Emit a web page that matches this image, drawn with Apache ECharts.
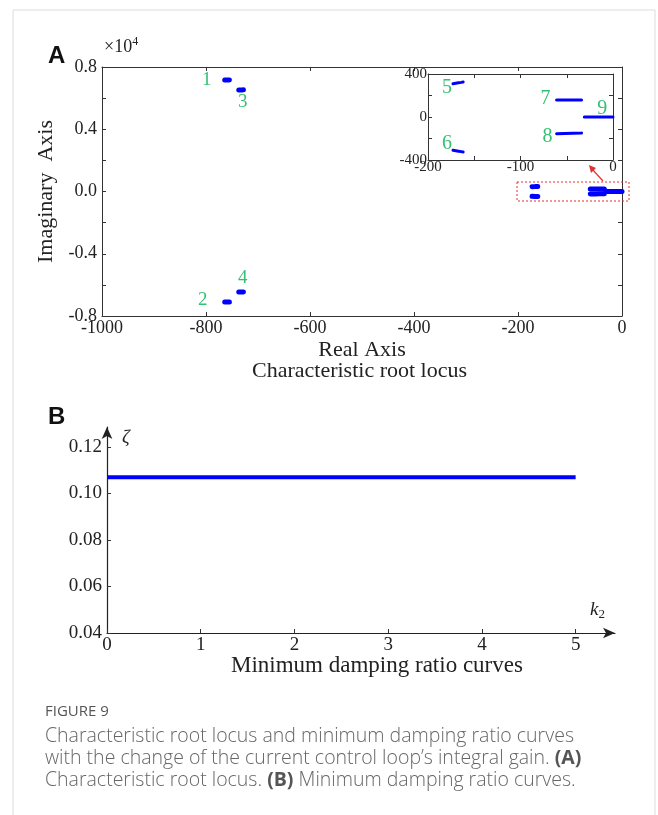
<!DOCTYPE html>
<html>
<head>
<meta charset="utf-8">
<script src="https://cdn.jsdelivr.net/npm/echarts@6/dist/echarts.min.js"></script>
<style>
	html, body { margin: 0; padding: 0; background: #fff; }
	#chart { width: 658px; height: 815px; }
</style>
</head>
<body>
<div id="chart"></div>
<script>
// root branches (real part, imaginary part)
var root1X = [-764, -761, -758, -755];
var root1Y = [7170, 7172, 7170, 7168];
var root2X = [-764, -761, -758, -755];
var root2Y = [-7100, -7102, -7100, -7098];
var root3X = [-737, -734, -731, -728];
var root3Y = [6530, 6528, 6530, 6532];
var root4X = [-737, -734, -731, -728];
var root4Y = [-6460, -6458, -6460, -6462];
var root5X = [-173, -170, -167, -164, -162];
var root5Y = [310, 314, 318, 322, 325];
var root6X = [-173, -170, -167, -164, -162];
var root6Y = [-310, -314, -318, -322, -325];
var root7X = [-61, -52, -43, -34];
var root7Y = [158, 158, 158, 158];
var root8X = [-61, -52, -43, -34];
var root8Y = [-155, -153, -151, -150];
var root9X = [-31, -22, -12, -4, 0];
var root9Y = [0, 0, 0, 0, 0];

// minimum damping ratio
var k2 = [0, 0.5, 1, 1.5, 2, 2.5, 3, 3.5, 4, 4.5, 5];
var zeta = [0.107, 0.107, 0.107, 0.107, 0.107, 0.107, 0.107, 0.107, 0.107, 0.107, 0.107];

var roots = [
	{ tag: '1', x: root1X, y: root1Y, off: [-18, 0] },
	{ tag: '2', x: root2X, y: root2Y, off: [-22, -2] },
	{ tag: '3', x: root3X, y: root3Y, off: [4, 12] },
	{ tag: '4', x: root4X, y: root4Y, off: [4, -14] },
	{ tag: '5', x: root5X, y: root5Y, off: [-6, 4], inset: true },
	{ tag: '6', x: root6X, y: root6Y, off: [-6, -7], inset: true },
	{ tag: '7', x: root7X, y: root7Y, off: [-11, -1], inset: true },
	{ tag: '8', x: root8X, y: root8Y, off: [-9, 3], inset: true },
	{ tag: '9', x: root9X, y: root9Y, off: [18, -8], inset: true }
];

var serif = 'Liberation Serif';
var green = '#00b050';
var blue = '#0000ff';

function pairs(xs, ys) {
	var out = [];
	for (var i = 0; i < xs.length; i++) out.push([xs[i], ys[i]]);
	return out;
}

function frameAxis(grid, pos, min, max, interval, opts) {
	var a = {
		type: 'value', gridIndex: grid, position: pos, min: min, max: max, interval: interval,
		splitLine: { show: false },
		axisLine: { show: true, onZero: false, lineStyle: { color: '#333', width: 1 } },
		axisTick: { show: true, inside: true, length: 4, lineStyle: { color: '#333' } },
		axisLabel: { show: false }
	};
	for (var k in opts) a[k] = opts[k];
	return a;
}

var series = [];
var mainLabels = [];
var insetLabels = [];
roots.forEach(function(r) {
	series.push({
		type: 'line', xAxisIndex: 0, yAxisIndex: 0, data: pairs(r.x, r.y),
		showSymbol: false, clip: false, silent: true,
		lineStyle: { color: blue, width: 5, cap: 'round' }
	});
	var lab = { value: [r.x[0], r.y[0]], name: r.tag, label: { offset: r.off } };
	if (r.inset) {
		series.push({
			type: 'line', xAxisIndex: 2, yAxisIndex: 2, data: pairs(r.x, r.y),
			showSymbol: false, clip: false, silent: true,
			lineStyle: { color: blue, width: 3, cap: 'round' }
		});
		insetLabels.push(lab);
	} else {
		mainLabels.push(lab);
	}
});
series.push({
	type: 'scatter', xAxisIndex: 0, yAxisIndex: 0, symbolSize: 0, data: mainLabels, silent: true,
	label: { show: true, position: 'inside', formatter: '{b}', color: green, fontFamily: serif, fontSize: 19 }
});
series.push({
	type: 'scatter', xAxisIndex: 2, yAxisIndex: 2, symbolSize: 0, data: insetLabels, silent: true,
	label: { show: true, position: 'inside', formatter: '{b}', color: green, fontFamily: serif, fontSize: 20 }
});
series.push({
	type: 'line', xAxisIndex: 4, yAxisIndex: 4, data: pairs(k2, zeta),
	showSymbol: false, silent: true, lineStyle: { color: blue, width: 4 }
});

var option = {
	animation: false,
	backgroundColor: '#fff',
	grid: [
		{ left: 102, top: 67, width: 520, height: 249 },
		{ left: 428, top: 74, width: 185, height: 86, show: true, backgroundColor: '#fff', borderWidth: 0 },
		{ left: 107, top: 427, width: 508, height: 206 }
	],
	xAxis: [
		frameAxis(0, 'bottom', -1000, 0, 200, {
			axisLabel: { show: true, fontFamily: serif, fontSize: 18, color: '#222', margin: 3,
				formatter: function(v) { return String(v); } },
			name: 'Real Axis', nameLocation: 'middle', nameGap: 23,
			nameTextStyle: { fontFamily: serif, fontSize: 22, color: '#222' }
		}),
		frameAxis(0, 'top', -1000, 0, 200, {}),
		frameAxis(1, 'bottom', -200, 0, 50, {
			axisLabel: { show: true, fontFamily: serif, fontSize: 15, color: '#222', margin: 0,
				formatter: function(v) { return v % 100 === 0 ? String(v) : ''; } }
		}),
		frameAxis(1, 'top', -200, 0, 50, {}),
		{
			type: 'value', gridIndex: 2, min: 0, max: 5.42, interval: 1,
			splitLine: { show: false },
			axisLine: { onZero: false, symbol: ['none', 'arrow'], symbolSize: [8, 12], lineStyle: { color: '#222', width: 1.2 } },
			axisTick: { inside: true, length: 4, lineStyle: { color: '#333' } },
			axisLabel: { fontFamily: serif, fontSize: 19, color: '#222', margin: 3, showMaxLabel: false }
		}
	],
	yAxis: [
		frameAxis(0, 'left', -8000, 8000, 2000, {
			axisLabel: { show: true, fontFamily: serif, fontSize: 18, color: '#222', margin: 5,
				formatter: function(v) { return v % 4000 === 0 ? (v / 10000).toFixed(1) : ''; } },
			name: 'Imaginary  Axis', nameLocation: 'middle', nameGap: 44,
			nameTextStyle: { fontFamily: serif, fontSize: 22, color: '#222' }
		}),
		frameAxis(0, 'right', -8000, 8000, 2000, {}),
		frameAxis(1, 'left', -400, 400, 200, {
			axisLabel: { show: true, fontFamily: serif, fontSize: 15, color: '#222', margin: 1,
				formatter: function(v) { return v % 400 === 0 ? String(v) : ''; } }
		}),
		frameAxis(1, 'right', -400, 400, 200, {}),
		{
			type: 'value', gridIndex: 2, min: 0.04, max: 0.1286, interval: 0.02,
			splitLine: { show: false },
			axisLine: { onZero: false, symbol: ['none', 'arrow'], symbolSize: [8, 12], lineStyle: { color: '#222', width: 1.2 } },
			axisTick: { inside: true, length: 4, lineStyle: { color: '#333' } },
			axisLabel: { fontFamily: serif, fontSize: 19, color: '#222', margin: 5, showMaxLabel: false,
				formatter: function(v) { return v.toFixed(2); } }
		}
	],
	series: series,
	graphic: [
		{ type: 'rect', shape: { x: 13, y: 10, width: 642, height: 830 }, style: { fill: 'none', stroke: '#dcdcdc', lineWidth: 1 }, z: -1 },
		{ type: 'text', left: 48, top: 44, style: { text: 'A', font: 'bold 24px "Liberation Sans"', fill: '#111' } },
		{ type: 'text', left: 48, top: 405, style: { text: 'B', font: 'bold 24px "Liberation Sans"', fill: '#111' } },
		{ type: 'text', left: 104, top: 36, style: {
			text: '×10{s|4}', font: '18px "Liberation Serif"', fill: '#222',
			rich: { s: { fontSize: 12, fontFamily: serif, verticalAlign: 'top', padding: [0, 0, 10, 0] } } } },
		{ type: 'text', left: 252, top: 360, style: { text: 'Characteristic root locus', font: '22px "Liberation Serif"', fill: '#222' } },
		{ type: 'text', left: 231, top: 654, style: { text: 'Minimum damping ratio curves', font: '23px "Liberation Serif"', fill: '#222' } },
		{ type: 'text', left: 122, top: 428, style: { text: 'ζ', font: 'italic 19px "Liberation Serif"', fill: '#222' } },
		{ type: 'text', left: 590, top: 600, style: {
			text: '{k|k}{s|2}', fill: '#222',
			rich: { k: { font: 'italic 19px "Liberation Serif"' }, s: { fontSize: 13, fontFamily: serif, verticalAlign: 'bottom', padding: [10, 0, 0, 0] } } } },
		{ type: 'rect', shape: { x: 517, y: 182, width: 112, height: 19 }, style: { fill: 'none', stroke: '#e53030', lineWidth: 1, lineDash: [2, 2] }, z: 10 },
		{ type: 'line', shape: { x1: 603, y1: 181, x2: 592, y2: 169 }, style: { stroke: '#e53030', lineWidth: 1.2 }, z: 10 },
		{ type: 'polygon', shape: { points: [[589, 165], [596, 168], [591, 173]] }, style: { fill: '#e53030' }, z: 10 },
		{ type: 'text', left: 45, top: 704, style: { text: 'FIGURE 9', font: '15px "Open Sans"', fill: '#555' } },
		{ type: 'text', left: 45, top: 725, style: {
			text: 'Characteristic root locus and minimum damping ratio curves\nwith the change of the current control loop’s integral gain. {b|(A)}\nCharacteristic root locus. {b|(B)} Minimum damping ratio curves.',
			font: '300 19.5px "Open Sans"', fill: '#666', lineHeight: 22,
			rich: { b: { fontWeight: 'bold', fontSize: 19.5, fontFamily: 'Open Sans', fill: '#555', lineHeight: 22 } } } }
	]
};

var myChart = echarts.init(document.getElementById('chart'));
myChart.setOption(option, true);
</script>
</body>
</html>
